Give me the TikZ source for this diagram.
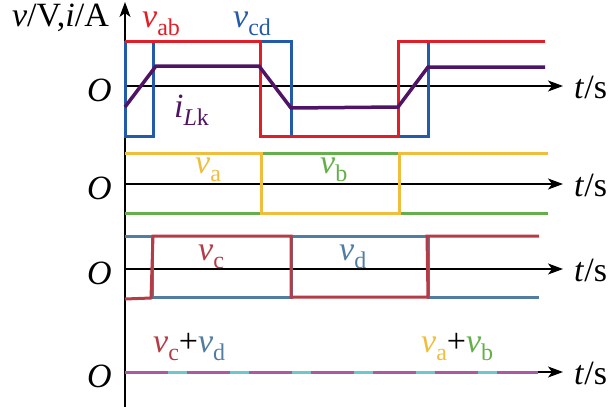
\documentclass[tikz,border=0pt]{standalone}
\usepackage{fontspec}
\setmainfont{Liberation Serif}
\usetikzlibrary{arrows.meta}
\definecolor{cab}{RGB}{225,30,40}
\definecolor{ccd}{RGB}{35,90,170}
\definecolor{ciL}{RGB}{80,20,100}
\definecolor{cya}{RGB}{240,190,60}
\definecolor{cgb}{RGB}{100,175,75}
\definecolor{cvc}{RGB}{180,60,70}
\definecolor{cvd}{RGB}{80,125,160}
\definecolor{cdp}{RGB}{170,90,165}
\definecolor{cdc}{RGB}{110,200,200}
\newcommand\lblsub[2]{\textit{#1}\raisebox{-8pt}{\fontsize{24}{24}\selectfont #2}}
\tikzset{
  axis/.style={line width=1.3pt,-{Stealth[length=15pt,width=11pt,inset=4pt]}},
  wave/.style={line width=3pt,line join=miter},
  txt/.style={inner sep=0pt,font=\fontsize{34}{34}\selectfont},
}
\begin{document}
\begin{tikzpicture}[x=1pt,y=-1pt]
\useasboundingbox (0,0) rectangle (608,407);
% axes
\draw[axis] (125,407) -- (125,2);
\foreach \yy in {86,184,269,372}{
  \draw[axis] (125,\yy) -- (563,\yy);
}
% panel 1
\draw[wave,ccd] (125,41) -- (125,136) -- (153,136) -- (153,41) -- (291,41) -- (291,136) -- (428,136) -- (428,41) -- (545,41);
\draw[wave,cab] (125,41) -- (260,41) -- (260,136) -- (398,136) -- (398,41) -- (545,41);
\draw[wave,ciL,line width=3.5pt] (125,107) -- (156,66) -- (259,66) -- (291,108) -- (398,107) -- (428,67) -- (545,67);
% panel 2
\draw[wave,cgb] (125,213) -- (261,213) -- (261,153) -- (399,153) -- (399,213) -- (548,213);
\draw[wave,cya] (125,153) -- (261,153) -- (261,213) -- (399,213) -- (399,153) -- (548,153);
% panel 3
\draw[wave,cvd] (125,236) -- (152,236) -- (152,297) -- (291,297) -- (291,236) -- (428,236) -- (428,297) -- (539,297);
\draw[wave,cvc] (125,299) -- (151,298) -- (153,236) -- (291,236) -- (291,297) -- (428,297) -- (427,236) -- (539,236);
% panel 4
\draw[wave,cdc] (125,372) -- (538,372);
\draw[wave,cdp,dash pattern=on 43pt off 19pt] (125,372) -- (538,372);
% labels
\node[txt,anchor=base east] (ylab) at (109,26) {\textit{v}/V,\textit{i}/A};
\foreach \yy/\nn in {86/a,184/b,269/c,372/d}{
  \node[txt,anchor=east] (O\nn) at (112,\yy+4) {\textit{O}};
  \node[txt,anchor=west] (t\nn) at (574,\yy+1) {\textit{t}/s};
}
\node[txt,anchor=base west,text=cab] (lab) at (142,27) {\lblsub{v}{ab}};
\node[txt,anchor=base west,text=ccd] (lcd) at (233,27) {\lblsub{v}{cd}};
\node[txt,anchor=base west,text=ciL] (liL) at (174,117) {\textit{i}\raisebox{-8pt}{\fontsize{24}{24}\selectfont\textit{L}k}};
\node[txt,anchor=base west,text=cya] (la) at (195,173) {\lblsub{v}{a}};
\node[txt,anchor=base west,text=cgb] (lb) at (320,173) {\lblsub{v}{b}};
\node[txt,anchor=base west,text=cvc] (lc) at (198,260) {\lblsub{v}{c}};
\node[txt,anchor=base west,text=cvd] (ld) at (339,260) {\lblsub{v}{d}};
\node[txt,anchor=base west] (lcd2) at (153,352) {\textcolor{cvc}{\lblsub{v}{c}}+\textcolor{cvd}{\lblsub{v}{d}}};
\node[txt,anchor=base west] (lab2) at (421,352) {\textcolor{cya}{\lblsub{v}{a}}+\textcolor{cgb}{\lblsub{v}{b}}};
\end{tikzpicture}
\end{document}
